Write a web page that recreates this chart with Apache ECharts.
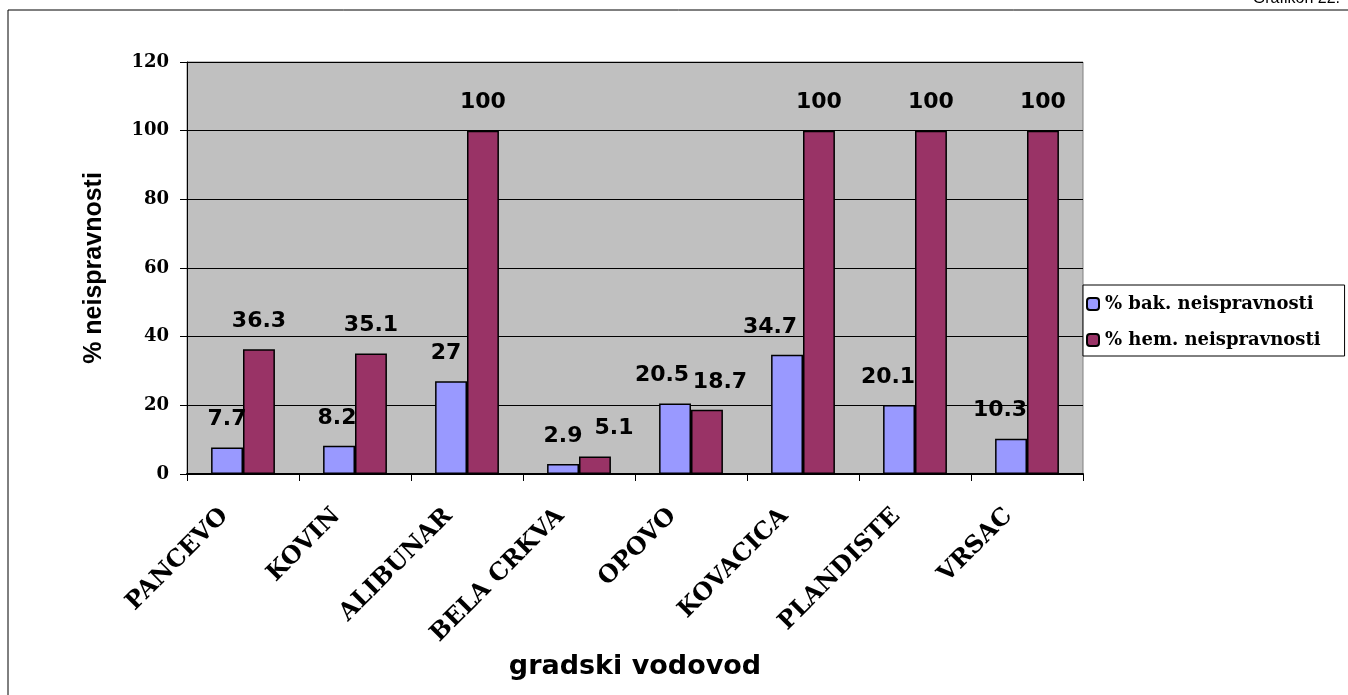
<!DOCTYPE html>
<html>
<head>
<meta charset="utf-8">
<script src="https://cdn.jsdelivr.net/npm/echarts@6/dist/echarts.min.js"></script>
<style>
  html, body { margin: 0; padding: 0; background: #fff; }
  #chart { width: 1348px; height: 695px; }
</style>
</head>
<body>
<div id="chart"></div>
<script>
const categories = ['PANCEVO', 'KOVIN', 'ALIBUNAR', 'BELA CRKVA', 'OPOVO', 'KOVACICA', 'PLANDISTE', 'VRSAC']
const bakValues = [7.7, 8.2, 27, 2.9, 20.5, 34.7, 20.1, 10.3]
const hemValues = [36.3, 35.1, 100, 5.1, 18.7, 100, 100, 100]
const seriesNames = ['% bak. neispravnosti', '% hem. neispravnosti']

// horizontal nudges of the value labels, so they don't overlap (like in the original)
const bakLabelShift = [0, -2, -5, 0, -13, -17, -11, -11]
const hemLabelShift = [0, 0, 0, 19, 13, 0, 0, 0]

const chart = echarts.init(document.getElementById('chart'))

const serif = '"DejaVu Serif", "Liberation Serif", serif'
const sans = '"DejaVu Sans", "Liberation Sans", sans-serif'

const labelStyle = {
  show: true,
  position: 'top',
  distance: 17,
  fontFamily: sans,
  fontWeight: 'bold',
  fontSize: 22,
  color: '#000'
}

const withShift = (values, shifts) =>
  values.map((v, i) => ({value: v, label: {offset: [shifts[i], 0]}}))

chart.setOption({
  animation: false,
  backgroundColor: '#fff',
  graphic: [
    {
      type: 'rect',
      shape: {x: 8, y: 10, width: 1360, height: 700},
      style: {fill: 'none', stroke: '#000', lineWidth: 1}
    },
    {
      type: 'text',
      right: 8,
      top: -9,
      style: {text: 'Grafikon 22.', font: '16px "Liberation Sans", Arial', fill: '#000'}
    }
  ],
  grid: {
    left: 187,
    right: 265,
    top: 62,
    bottom: 221,
    show: true,
    backgroundColor: '#c0c0c0',
    borderColor: '#808080',
    borderWidth: 1
  },
  legend: {
    orient: 'vertical',
    left: 1083,
    top: 285,
    itemWidth: 12,
    itemHeight: 12,
    itemGap: 18,
    padding: [10, 24, 7, 3],
    backgroundColor: '#fff',
    borderColor: '#000',
    borderWidth: 1,
    textStyle: {
      fontFamily: serif,
      fontWeight: 'bold',
      fontSize: 18,
      color: '#000',
      padding: [0, 0, 0, 1]
    },
    data: seriesNames.map(n => ({name: n, itemStyle: {borderColor: '#000', borderWidth: 2}}))
  },
  xAxis: {
    type: 'category',
    data: categories,
    name: 'gradski vodovod',
    nameLocation: 'middle',
    nameGap: 171,
    nameTextStyle: {
      fontFamily: sans,
      fontWeight: 'bold',
      fontSize: 27,
      color: '#000'
    },
    axisLine: {lineStyle: {color: '#000', width: 2}},
    axisTick: {show: true, length: 7, lineStyle: {color: '#000'}},
    axisLabel: {
      rotate: 45,
      margin: 20,
      padding: [0, 26, 0, 0],
      fontFamily: serif,
      fontWeight: 'bold',
      fontSize: 24,
      color: '#000'
    }
  },
  yAxis: {
    type: 'value',
    min: 0,
    max: 120,
    interval: 20,
    name: '% neispravnosti',
    nameLocation: 'middle',
    nameGap: 80,
    nameTextStyle: {
      fontFamily: '"Liberation Sans", Arial, sans-serif',
      fontWeight: 'bold',
      fontSize: 25,
      color: '#000'
    },
    axisLine: {show: true, lineStyle: {color: '#000', width: 1}},
    axisTick: {show: true, length: 7, lineStyle: {color: '#000'}},
    splitLine: {lineStyle: {color: '#000', width: 1}},
    axisLabel: {
      margin: 18,
      fontFamily: serif,
      fontWeight: 'bold',
      fontSize: 18,
      color: '#000'
    }
  },
  series: [
    {
      name: seriesNames[0],
      type: 'bar',
      data: withShift(bakValues, bakLabelShift),
      barGap: '0%',
      barCategoryGap: '43%',
      itemStyle: {color: '#9999ff', borderColor: '#000', borderWidth: 1.5},
      label: labelStyle
    },
    {
      name: seriesNames[1],
      type: 'bar',
      data: withShift(hemValues, hemLabelShift),
      itemStyle: {color: '#993366', borderColor: '#000', borderWidth: 1.5},
      label: labelStyle
    }
  ]
})
</script>
</body>
</html>
